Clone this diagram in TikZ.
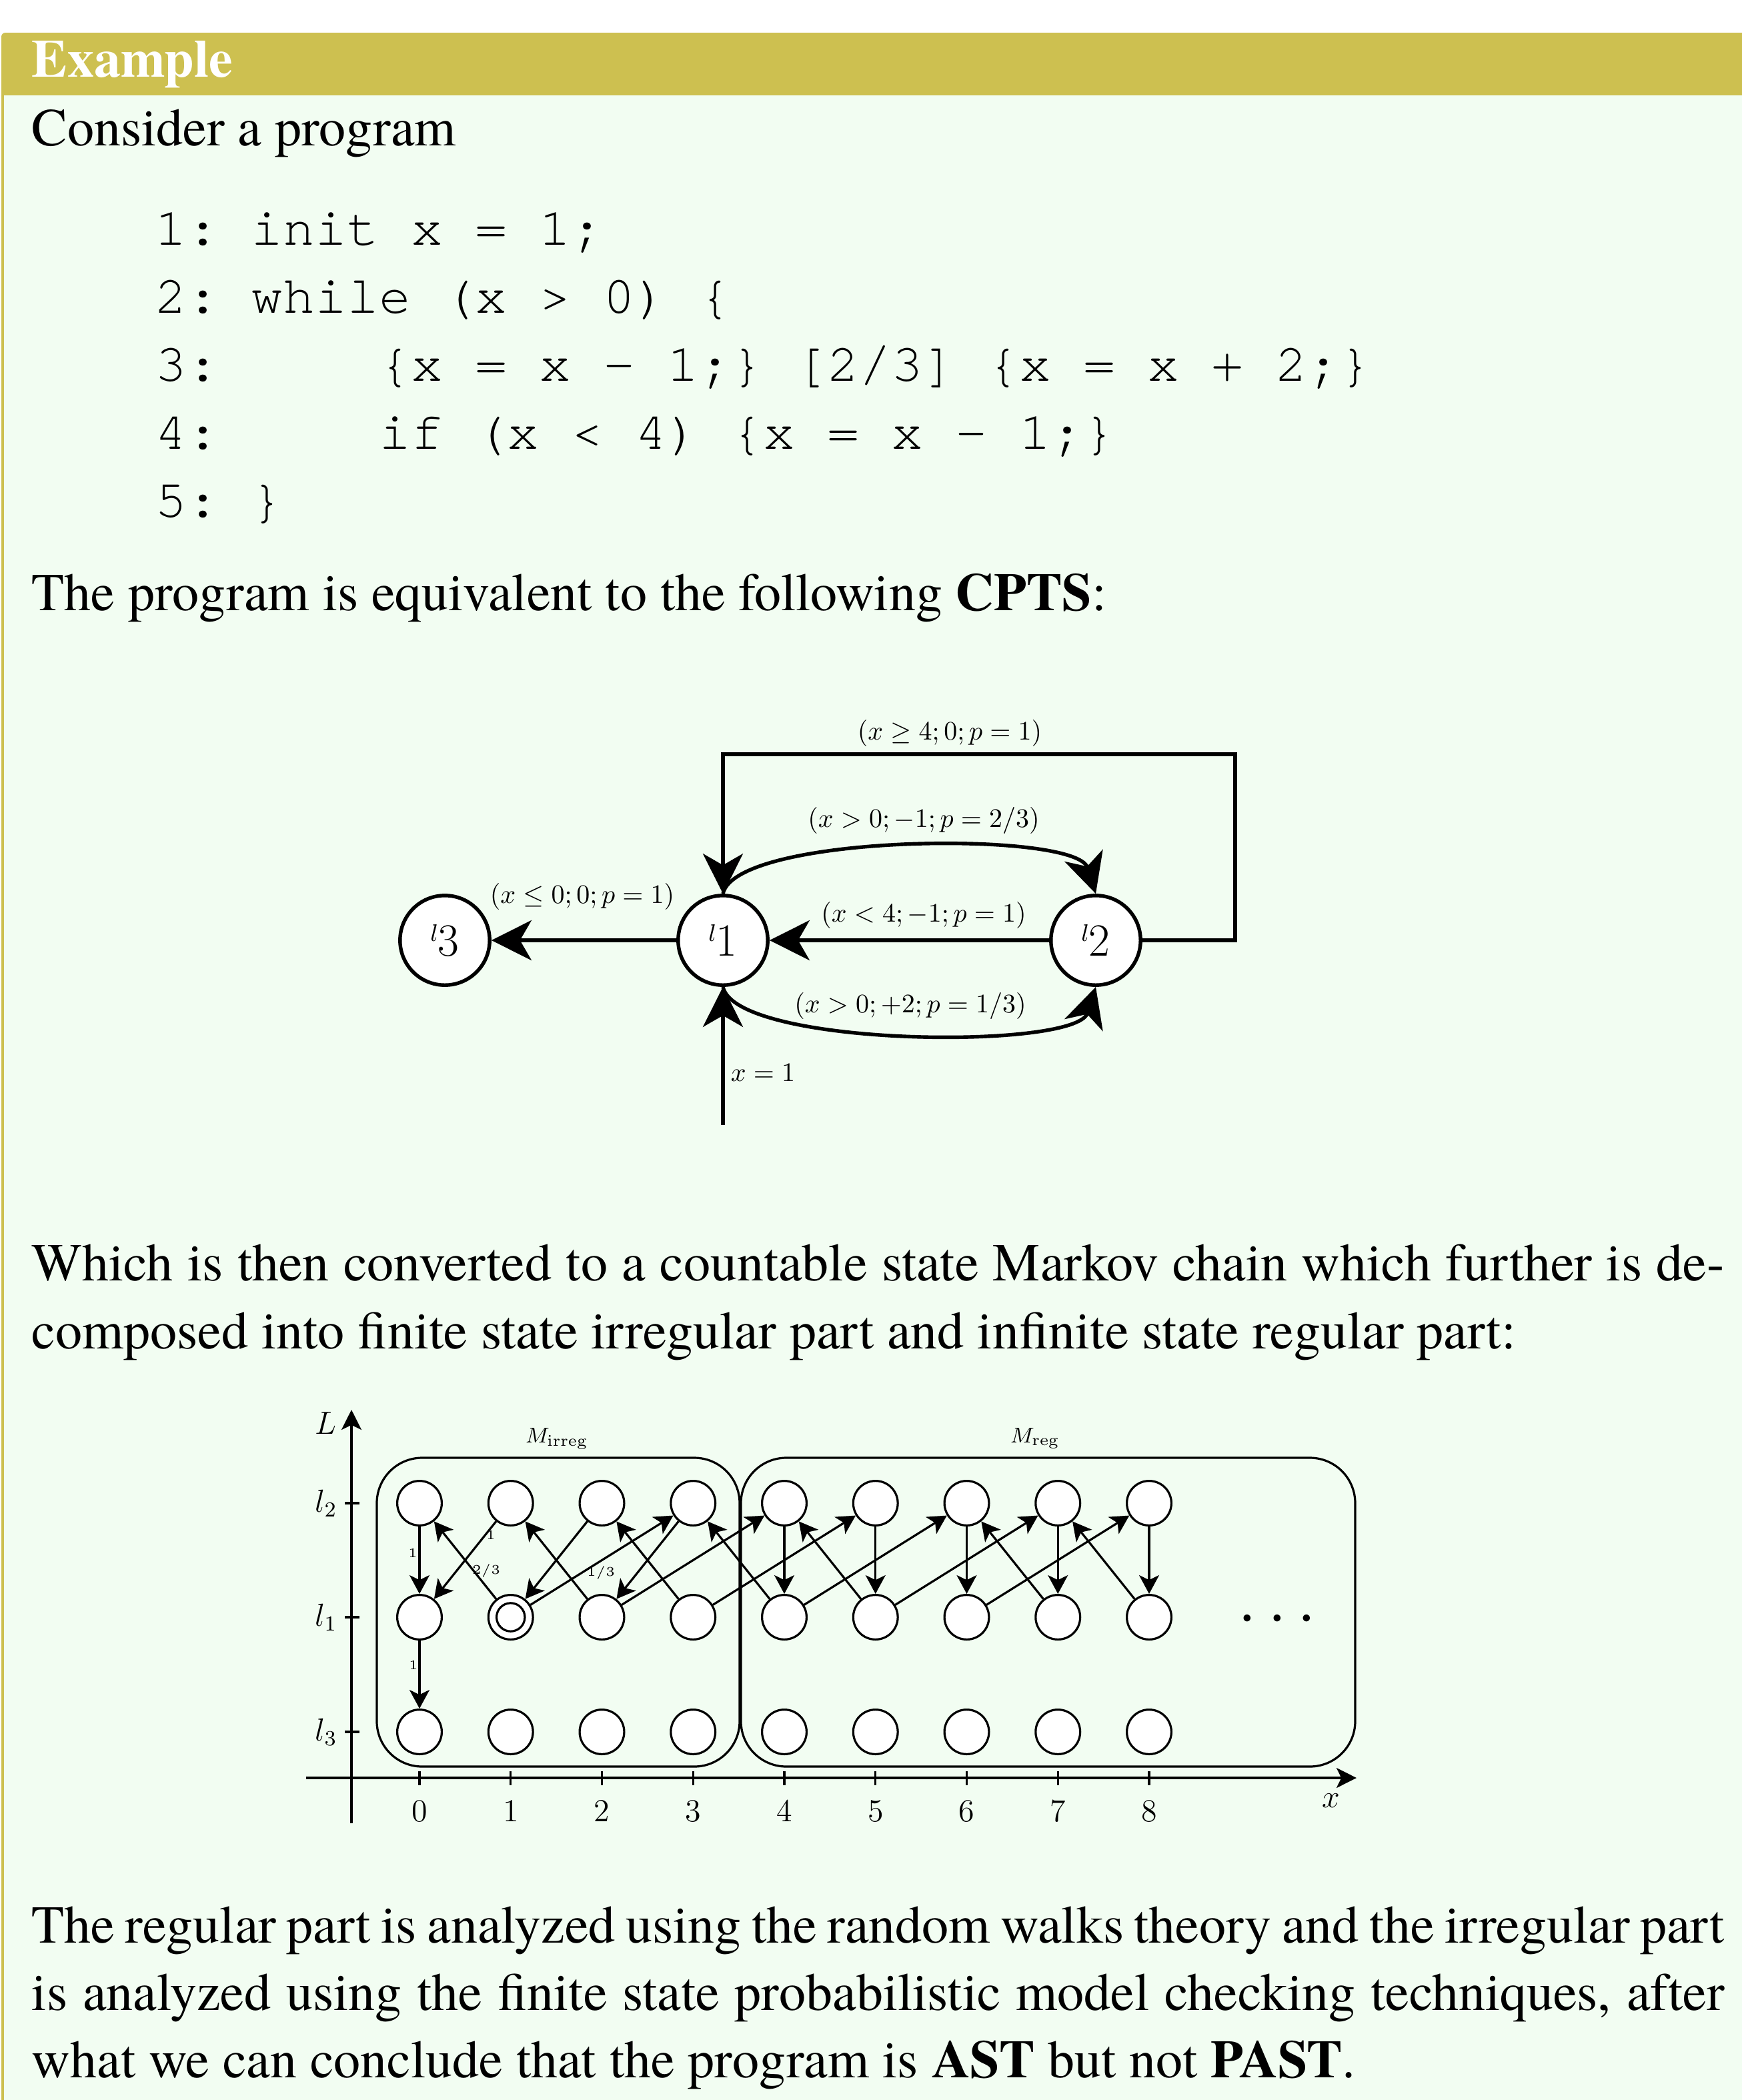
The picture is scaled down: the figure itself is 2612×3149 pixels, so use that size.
\documentclass[tikz,border=0pt]{standalone}
\usepackage[no-math]{fontspec}
\setmainfont{TeX Gyre Termes}
\setmonofont{TeX Gyre Cursor}
\usetikzlibrary{arrows.meta}
\definecolor{framecol}{RGB}{205,192,80}
\definecolor{framebg}{RGB}{242,253,242}
\newcommand{\locname}[1]{\raisebox{5.5pt}{\fontsize{9}{9}\selectfont$l$}{\fontsize{16.3}{18}\selectfont$#1$}}
\begin{document}
\begin{tikzpicture}[x=0.25pt,y=0.25pt,
  body/.style={anchor=base west, inner sep=0pt, font=\fontsize{20}{25.5}\selectfont},
  codeline/.style={anchor=base west, inner sep=0pt, font=\fontsize{20}{25.5}\selectfont\ttfamily},
  loc/.style={circle, draw, fill=white, line width=1.35pt, minimum size=33.6pt, inner sep=0pt},
  cedge/.style={line width=1.35pt, -{Stealth[length=15pt,width=15pt,inset=4.3pt]}},
  clabel/.style={inner sep=0pt, font=\fontsize{10}{12}\selectfont},
  mstate/.style={circle, draw, fill=white, line width=0.8pt, minimum size=16.7pt, inner sep=0pt},
  medge/.style={line width=0.8pt, -{Stealth[length=7pt,width=7.5pt,inset=1.8pt]}},
  axis/.style={line width=0.85pt, -{Stealth[length=7.5pt,width=7.5pt,inset=1.8pt]}},
  tick/.style={line width=0.8pt},
  mlab/.style={inner sep=0pt, font=\fontsize{5}{6}\selectfont},
  group/.style={draw, line width=0.8pt, rounded corners=17pt, inner sep=0pt}
]
\useasboundingbox (0,0) rectangle (2612,-3149);
% frame
\fill[white] (0,0) rectangle (2612,-3149);
\fill[framecol, rounded corners=1.5pt] (2,-3400) rectangle (2800,-49);
\fill[framebg] (5.5,-143) rectangle (2800,-3400);

% text
\node[body, font=\bfseries\fontsize{20}{25.5}\selectfont, text=white] (title) at (47,-115) {Example};
\node[body] (t1) at (47,-218) {Consider a program};
\node[codeline] (code1) at (232,-367) {1: init x = 1;};
\node[codeline] (code2) at (232,-469) {2: while (x > 0) \{};
\node[codeline] (code3) at (232,-571) {3:~~~~~\{x = x - 1;\} [2/3] \{x = x + 2;\}};
\node[codeline] (code4) at (232,-673) {4:~~~~~if (x < 4) \{x = x - 1;\}};
\node[codeline] (code5) at (232,-775) {5: \}};
\node[body] (t2) at (47,-915) {The program is equivalent to the following \textbf{CPTS}:};
\node[body] (t3a) at (47,-1920) {\makebox[634.5pt][s]{Which is then converted to a countable state Markov chain which further is de-}};
\node[body] (t3b) at (47,-2022) {composed into finite state irregular part and infinite state regular part:};
\node[body] (t4a) at (47,-2913) {\makebox[634.5pt][s]{The regular part is analyzed using the random walks theory and the irregular part}};
\node[body] (t4b) at (47,-3014) {\makebox[634.5pt][s]{is analyzed using the finite state probabilistic model checking techniques, after}};
\node[body] (t4c) at (47,-3115) {what we can conclude that the program is \textbf{AST} but not \textbf{PAST}.};

% CPTS
\node[loc] (l3) at (667,-1410) {\locname{3}};
\node[loc] (l1) at (1084,-1410) {\locname{1}};
\node[loc] (l2) at (1643,-1410) {\locname{2}};
\coordinate (rc) at (1852,-1131);
\coordinate (init) at (1084,-1687);
\draw[cedge] (l1) -- (l3);
\draw[cedge] (l2) -- (l1);
\draw[cedge] (l2.east) -| (rc) -| (l1.north);
\draw[cedge] (l1.north) .. controls +(20,90) and +(-30,95) .. (l2.north);
\draw[cedge] (l1.south) .. controls +(20,-90) and +(-30,-95) .. (l2.south);
\draw[cedge] (init) -- (l1);
\node[clabel] (la) at (1424,-1099) {$(x\geq 4;0;p=1)$};
\node[clabel] (lb) at (1385,-1230) {$(x>0;-1;p=2/3)$};
\node[clabel] (lc) at (873,-1344) {$(x\leq 0;0;p=1)$};
\node[clabel] (ld) at (1385,-1372) {$(x<4;-1;p=1)$};
\node[clabel] (le) at (1365,-1508) {$(x>0;+2;p=1/3)$};
\node[clabel] (lf) at (1144,-1609) {$x=1$};

% Markov chain
\node[group, minimum width=136pt, minimum height=115.75pt] (birr) at (837,-2417.5) {};
\node[group, minimum width=230.25pt, minimum height=115.75pt] (breg) at (1571.5,-2417.5) {};
\node[font=\fontsize{8.5}{9}\selectfont] (mirr) at (835,-2157) {$M_{\mathrm{irreg}}$};
\node[font=\fontsize{8.5}{9}\selectfont] (mreg) at (1552,-2157) {$M_{\mathrm{reg}}$};

\coordinate (yb) at (527,-2734);
\coordinate (yt) at (527,-2114);
\coordinate (xl) at (459,-2666);
\coordinate (xr) at (2034,-2666);
\draw[axis] (yb) -- (yt);
\draw[axis] (xl) -- (xr);
\node[font=\fontsize{12.5}{14}\selectfont] (Llab) at (488,-2134) {$L$};
\node[font=\fontsize{12}{14}\selectfont] (xlab) at (1996,-2700) {$x$};
\foreach \i in {0,...,8} {
  \draw[tick] ({629+136.75*\i},-2656) -- ({629+136.75*\i},-2677);
  \node[font=\fontsize{12.5}{14}\selectfont] (xt\i) at ({629+136.75*\i},-2716) {$\i$};
}
\foreach \r/\yy in {2/2254,1/2425,3/2597} {
  \draw[tick] (517,-\yy) -- (539,-\yy);
  \node[font=\fontsize{12}{14}\selectfont] (yl\r) at (489,-\yy) {$l_\r$};
  \foreach \i in {0,...,8} {
    \node[mstate] (c\i\r) at ({629+136.75*\i},-\yy) {};
  }
}
\draw[line width=0.8pt] (c11.center) circle[radius=5.3pt];

\draw[medge] (c02) -- (c01);
\draw[medge] (c01) -- (c03);
\draw[medge] (c12) -- (c01);
\draw[medge] (c11) -- (c02);
\draw[medge] (c11) -- (c32);
\draw[medge] (c22) -- (c11);
\draw[medge] (c21) -- (c12);
\draw[medge] (c21) -- (c42);
\draw[medge] (c32) -- (c21);
\draw[medge] (c31) -- (c22);
\draw[medge] (c31) -- (c52);
\draw[medge] (c41) -- (c32);
\draw[medge] (c41) -- (c62);
\draw[medge] (c51) -- (c42);
\draw[medge] (c51) -- (c72);
\draw[medge] (c61) -- (c82);
\draw[medge] (c71) -- (c62);
\draw[medge] (c81) -- (c72);
\foreach \i in {4,...,8} { \draw[medge] (c\i2) -- (c\i1); }

\node[mlab] (p1) at (619,-2329) {$1$};
\node[mlab] (p2) at (736,-2302) {$1$};
\node[mlab] (p3) at (729,-2355) {$2/3$};
\node[mlab] (p4) at (901,-2358) {$1/3$};
\node[mlab] (p5) at (620,-2497) {$1$};

\node[anchor=base, inner sep=0pt, font=\fontsize{27}{28}\selectfont] (dots) at (1915,-2451) {$\cdots$};
\end{tikzpicture}
\end{document}
